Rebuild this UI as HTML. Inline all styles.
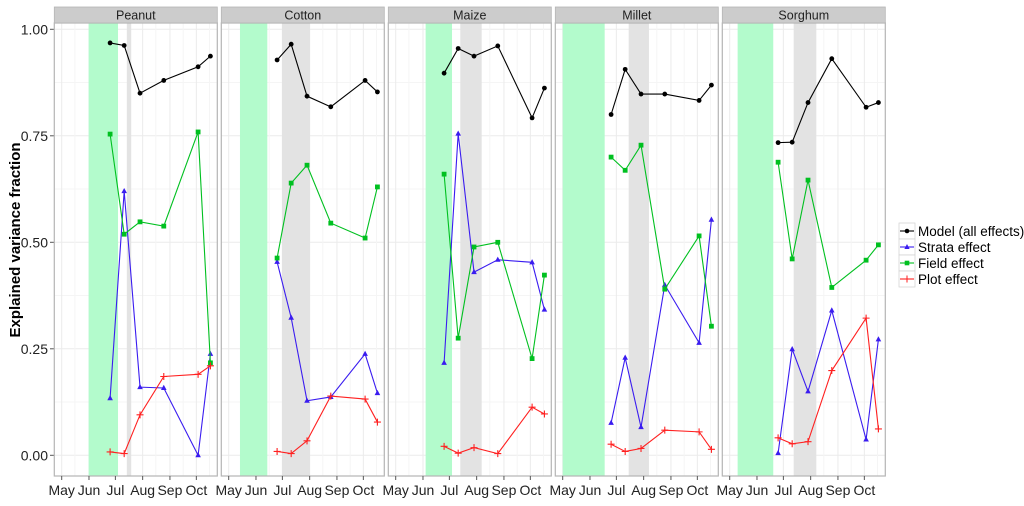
<!DOCTYPE html>
<html><head><meta charset="utf-8"><style>
body{margin:0;background:#fff;font-family:"Liberation Sans",sans-serif}
</style></head><body>
<svg id="chart" width="1024" height="501" xmlns="http://www.w3.org/2000/svg" font-family="Liberation Sans, sans-serif"></svg>
<script>
const crops = ["Peanut","Cotton","Maize","Millet","Sorghum"];
const sampleDays = [55,71,89,116,155,169];
const monthLabels = ["May","Jun","Jul","Aug","Sep","Oct"];
const monthDays = [0,31,61,92,123,153];
const yTicks = [0,0.25,0.5,0.75,1.0];
const yTickLabels = ["0.00","0.25","0.50","0.75","1.00"];
const greenBands = [[30.6,64],[12.8,43.9],[34,64],[0,47.7],[9,49.5]];
const grayBands = [[74,79],[60.6,92.4],[73.4,97.7],[75,98],[72.7,98.4]];
const modelVals = [[.968,.962,.850,.880,.912,.937],[.928,.965,.843,.818,.880,.853],[.897,.955,.937,.961,.792,.862],[.800,.906,.848,.848,.833,.869],[.734,.735,.828,.931,.817,.828]];
const strataVals = [[.134,.620,.160,.158,0,.238],[.454,.323,.128,.137,.238,.146],[.217,.755,.430,.459,.453,.342],[.076,.229,.066,.400,.264,.553],[.005,.249,.150,.340,.037,.272]];
const fieldVals = [[.754,.519,.548,.538,.759,.217],[.463,.639,.681,.545,.510,.630],[.660,.275,.489,.500,.227,.423],[.700,.669,.728,.390,.515,.303],[.688,.461,.646,.394,.458,.494]];
const plotVals = [[.008,.004,.095,.185,.190,.210],[.009,.004,.034,.139,.132,.078],[.021,.005,.018,.004,.113,.097],[.026,.009,.016,.059,.055,.014],[.041,.027,.032,.199,.322,.062]];
const seriesNames = ["Model (all effects)","Strata effect","Field effect","Plot effect"];

const NS="http://www.w3.org/2000/svg", svg=document.getElementById('chart');
function mk(t,a,p){const e=document.createElementNS(NS,t);for(const k in a)e.setAttribute(k,a[k]);(p||svg).appendChild(e);return e;}
const PW=163, GAP=4, L0=54.3, TOP=23, BOT=476;
const y=v=>455.3-v*426;
const xd=(i,d)=>L0+i*(PW+GAP)+7.4+0.88*d;

yTicks.forEach((v,k)=>{
  mk('line',{x1:50,x2:54,y1:y(v),y2:y(v),stroke:'#555'});
  const t=mk('text',{x:48,y:y(v)+5,'text-anchor':'end','font-size':14,fill:'#222'});t.textContent=yTickLabels[k];
  
  
});
const yt=mk('text',{x:0,y:0,transform:'translate(20,240) rotate(-90)','text-anchor':'middle','font-size':15,'font-weight':'bold',fill:'#000'});
yt.textContent='Explained variance fraction';



const colors=['#000','#3a1cf0','#00c020','#ff2020'];
crops.forEach((c,i)=>{
  const g=mk('g',{});
  
  
  const left=L0+i*(PW+GAP);
  mk('rect',{x:left,y:TOP,width:PW,height:BOT-TOP,fill:'#fff'},g);
  for(let v=0;v<=1.0001;v+=0.125) mk('line',{x1:left,x2:left+PW,y1:y(v),y2:y(v),stroke:(Math.abs(v*4-Math.round(v*4))<1e-6)?'#ebebeb':'#f5f5f5'},g);
  monthDays.forEach((d,k)=>{mk('line',{x1:xd(i,d),x2:xd(i,d),y1:TOP,y2:BOT,stroke:'#ebebeb'},g);mk('line',{x1:xd(i,d+15),x2:xd(i,d+15),y1:TOP,y2:BOT,stroke:'#f5f5f5'},g);});
  const gb=mk('rect',{x:xd(i,greenBands[i][0]),y:TOP,width:0.88*(greenBands[i][1]-greenBands[i][0]),height:BOT-TOP,fill:'#b3fbcc'},g);
  
  
  const gr=mk('rect',{x:xd(i,grayBands[i][0]),y:TOP,width:0.88*(grayBands[i][1]-grayBands[i][0]),height:BOT-TOP,fill:'#e3e3e3'},g);
  
  
  mk('rect',{x:left,y:TOP,width:PW,height:BOT-TOP,fill:'none',stroke:'#b5b5b5','stroke-width':1.2},g);
  mk('rect',{x:left,y:7,width:PW,height:TOP-7,fill:'#cccccc',stroke:'#b5b5b5','stroke-width':0.8},g);
  const st=mk('text',{x:left+PW/2,y:19.5,'text-anchor':'middle','font-size':12.5,fill:'#222'},g);st.textContent=c;
  
  
  monthDays.forEach((d,k)=>{
    mk('line',{x1:xd(i,d),x2:xd(i,d),y1:BOT,y2:BOT+4,stroke:'#555'},g);
    const t=mk('text',{x:xd(i,d),y:495,'text-anchor':'middle','font-size':14,fill:'#222'},g);t.textContent=monthLabels[k];
    
    
  });
  [modelVals,strataVals,fieldVals,plotVals].forEach((S,s)=>{
    const pts=sampleDays.map((d,j)=>[xd(i,d),y(S[i][j])]);
    const pl=mk('polyline',{points:pts.map(p=>p.join(',')).join(' '),fill:'none',stroke:colors[s],'stroke-width':1.1},g);
    
    
    pts.forEach(([px,py])=>{
      let m;
      if(s==0) m=mk('circle',{cx:px,cy:py,r:2.4,fill:colors[s]},g);
      else if(s==1) m=mk('polygon',{points:`${px},${py-3.2} ${px-2.8},${py+2} ${px+2.8},${py+2}`,fill:colors[s]},g);
      else if(s==2) m=mk('rect',{x:px-2.4,y:py-2.4,width:4.8,height:4.8,fill:colors[s]},g);
      else m=mk('path',{d:`M${px-3.5},${py}H${px+3.5}M${px},${py-3.5}V${py+3.5}`,stroke:colors[s],'stroke-width':1.1},g);
      
      
    });
  });
});
const lg=mk('g',{});


seriesNames.forEach((n,s)=>{
  const cy=231+s*16;
  const e=mk('g',{},lg);
  
  
  mk('rect',{x:899,y:cy-8,width:16,height:16,fill:'#fff',stroke:'#d0d0d0','stroke-width':0.7},e);
  mk('line',{x1:900,x2:914,y1:cy,y2:cy,stroke:colors[s],'stroke-width':1.1},e);
  if(s==0) mk('circle',{cx:907,cy:cy,r:2.3,fill:colors[s]},e);
  else if(s==1) mk('polygon',{points:`907,${cy-3} 904.4,${cy+2} 909.6,${cy+2}`,fill:colors[s]},e);
  else if(s==2) mk('rect',{x:904.7,y:cy-2.3,width:4.6,height:4.6,fill:colors[s]},e);
  else mk('line',{x1:907,x2:907,y1:cy-3.5,y2:cy+3.5,stroke:colors[s]},e);
  const t=mk('text',{x:918,y:cy+5,'font-size':13.5,fill:'#000'},e);t.textContent=n;
});
</script>
</body></html>
